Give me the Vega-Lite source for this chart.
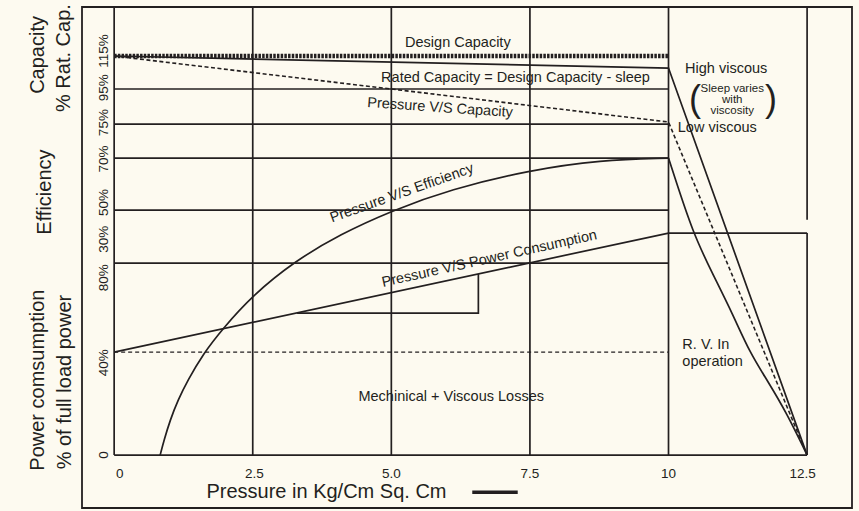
{
  "$schema": "https://vega.github.io/schema/vega-lite/v6.json",
  "width": 770,
  "height": 501,
  "autosize": {"type": "none"},
  "padding": {"left": 82, "top": 7, "right": 7, "bottom": 3},
  "background": "#fdfaf0",
  "view": {"stroke": "#231f20", "strokeWidth": 1.8, "fill": "#fdfaf0"},
  "config": {
    "font": "Liberation Sans",
    "text": {"font": "Liberation Sans", "color": "#231f20", "fontSize": 14},
    "line": {"color": "#231f20", "strokeWidth": 1.7},
    "rule": {"color": "#231f20", "strokeWidth": 1.7}
  },
  "datasets": {
    "vgrid": [
      {"x": 0, "y": 0, "y2": 100},
      {"x": 2.5, "y": 0, "y2": 100},
      {"x": 5, "y": 0, "y2": 100},
      {"x": 7.5, "y": 0, "y2": 100},
      {"x": 10, "y": 0, "y2": 100},
      {"x": 12.5, "y": 52.5, "y2": 100},
      {"x": 12.5, "y": 0, "y2": 49.55}
    ],
    "hgrid": [
      {"y": 0, "x": 0, "x2": 12.5},
      {"y": 81.7, "x": 0, "x2": 10},
      {"y": 73.88, "x": 0, "x2": 10},
      {"y": 66.29, "x": 0, "x2": 10},
      {"y": 54.69, "x": 0, "x2": 10},
      {"y": 42.86, "x": 0, "x2": 10}
    ],
    "hdash": [{"y": 22.99, "x": 0, "x2": 10}],
    "design": [{"x": 0, "y": 89.06}, {"x": 10, "y": 89.06}],
    "polylines": [
      {"id": "rated", "o": 1, "x": 0, "y": 89.06},
      {"id": "rated", "o": 2, "x": 10, "y": 86.38},
      {"id": "rated", "o": 3, "x": 12.5, "y": 0},
      {"id": "power", "o": 1, "x": 0, "y": 22.99},
      {"id": "power", "o": 2, "x": 10, "y": 49.55},
      {"id": "power", "o": 3, "x": 12.5, "y": 49.55},
      {"id": "slope", "o": 1, "x": 3.3, "y": 31.7},
      {"id": "slope", "o": 2, "x": 6.57, "y": 31.7},
      {"id": "slope", "o": 3, "x": 6.57, "y": 40.4}
    ],
    "curves": [
      {"id": "efficiency", "o": 1, "x": 0.83, "y": 0},
      {"id": "efficiency", "o": 2, "x": 0.9, "y": 3.35},
      {"id": "efficiency", "o": 3, "x": 1.01, "y": 7.81},
      {"id": "efficiency", "o": 4, "x": 1.15, "y": 12.28},
      {"id": "efficiency", "o": 5, "x": 1.33, "y": 16.74},
      {"id": "efficiency", "o": 6, "x": 1.6, "y": 22.5},
      {"id": "efficiency", "o": 7, "x": 1.95, "y": 28.1},
      {"id": "efficiency", "o": 8, "x": 2.5, "y": 35.7},
      {"id": "efficiency", "o": 9, "x": 3.26, "y": 43.3},
      {"id": "efficiency", "o": 10, "x": 4.08, "y": 49.3},
      {"id": "efficiency", "o": 11, "x": 5.0, "y": 54.5},
      {"id": "efficiency", "o": 12, "x": 6.06, "y": 59.3},
      {"id": "efficiency", "o": 13, "x": 7.5, "y": 63.6},
      {"id": "efficiency", "o": 14, "x": 8.77, "y": 65.85},
      {"id": "efficiency", "o": 15, "x": 10, "y": 66.29},
      {"id": "lowvisc", "o": 1, "x": 10, "y": 66.29},
      {"id": "lowvisc", "o": 2, "x": 10.07, "y": 63.6},
      {"id": "lowvisc", "o": 3, "x": 10.44, "y": 49.55},
      {"id": "lowvisc", "o": 4, "x": 10.79, "y": 40.6},
      {"id": "lowvisc", "o": 5, "x": 11.15, "y": 31.7},
      {"id": "lowvisc", "o": 6, "x": 11.47, "y": 22.77},
      {"id": "lowvisc", "o": 7, "x": 11.78, "y": 16.74},
      {"id": "lowvisc", "o": 8, "x": 12.14, "y": 9.2},
      {"id": "lowvisc", "o": 9, "x": 12.5, "y": 0}
    ],
    "capdash": [
      {"x": 0, "y": 89.06},
      {"x": 10, "y": 74.33},
      {"x": 12.5, "y": 0}
    ],
    "arrow": [{"x": 6.46, "x2": 7.28, "y": -8.26}],
    "xlabels": [
      {"t": "0", "x": 0.1, "y": -4.2},
      {"t": "2.5", "x": 2.53, "y": -4.2},
      {"t": "5.0", "x": 5.0, "y": -4.2},
      {"t": "7.5", "x": 7.5, "y": -4.2},
      {"t": "10", "x": 10.0, "y": -4.2},
      {"t": "12.5", "x": 12.42, "y": -4.2}
    ],
    "ylabels": [
      {"t": "115%", "x": -0.19, "y": 90.2},
      {"t": "95%", "x": -0.19, "y": 82.0},
      {"t": "75%", "x": -0.19, "y": 74.2},
      {"t": "70%", "x": -0.19, "y": 66.1},
      {"t": "50%", "x": -0.19, "y": 56.4},
      {"t": "30%", "x": -0.19, "y": 48.2},
      {"t": "80%", "x": -0.19, "y": 39.6},
      {"t": "40%", "x": -0.19, "y": 20.6},
      {"t": "0", "x": -0.19, "y": 0.0}
    ],
    "titles": [
      {"t": "Capacity", "x": -1.38, "y": 89.3},
      {"t": "% Rat. Cap.", "x": -0.91, "y": 88.6},
      {"t": "Efficiency", "x": -1.25, "y": 58.7},
      {"t": "Power comsumption", "x": -1.37, "y": 16.74},
      {"t": "% of full load power", "x": -0.89, "y": 16.3}
    ],
    "xtitle": [{"t": "Pressure in Kg/Cm Sq. Cm", "x": 3.83, "y": -8.26}],
    "notes": [
      {"t": "Design Capacity", "x": 6.2, "y": 91.96},
      {"t": "Rated Capacity = Design Capacity - sleep", "x": 7.24, "y": 84.15},
      {"t": "High viscous", "x": 11.04, "y": 86.16},
      {"t": "Low viscous", "x": 10.88, "y": 72.99},
      {"t": "Mechinical + Viscous Losses", "x": 6.08, "y": 12.95}
    ],
    "rv": [
      {"t": "R. V. In", "x": 10.25, "y": 24.55},
      {"t": "operation", "x": 10.25, "y": 20.76}
    ],
    "sleep": [
      {"t": "Sleep varies", "x": 11.15, "y": 81.7},
      {"t": "with", "x": 11.15, "y": 79.24},
      {"t": "viscosity", "x": 11.15, "y": 76.79}
    ],
    "parens": [
      {"t": "(", "x": 10.48, "y": 79.24},
      {"t": ")", "x": 11.85, "y": 79.24}
    ],
    "capnote": [{"t": "Pressure V/S Capacity", "x": 5.88, "y": 77.46}],
    "effnote": [{"t": "Pressure V/S Efficiency", "x": 5.19, "y": 58.4}],
    "pownote": [{"t": "Pressure V/S Power Consumption", "x": 6.77, "y": 43.75}]
  },
  "encoding": {
    "x": {"field": "x", "type": "quantitative", "scale": {"domain": [-0.58, 13.31], "nice": false, "zero": false}, "axis": null},
    "y": {"field": "y", "type": "quantitative", "scale": {"domain": [-11.8, 100], "nice": false, "zero": false}, "axis": null}
  },
  "layer": [
    {"data": {"name": "vgrid"}, "mark": {"type": "rule"}, "encoding": {"y2": {"field": "y2"}}},
    {"data": {"name": "hgrid"}, "mark": {"type": "rule"}, "encoding": {"x2": {"field": "x2"}}},
    {"data": {"name": "hdash"}, "mark": {"type": "rule", "strokeDash": [4, 3], "strokeWidth": 1.2}, "encoding": {"x2": {"field": "x2"}}},
    {"data": {"name": "polylines"}, "mark": {"type": "line"}, "encoding": {"detail": {"field": "id"}, "order": {"field": "o"}}},
    {"data": {"name": "curves"}, "mark": {"type": "line", "interpolate": "basis"}, "encoding": {"detail": {"field": "id"}, "order": {"field": "o"}}},
    {"data": {"name": "capdash"}, "mark": {"type": "line", "strokeDash": [4, 2.5], "strokeWidth": 1.6}, "encoding": {}},
    {"data": {"name": "design"}, "mark": {"type": "line", "strokeDash": [2.5, 1.2], "strokeWidth": 4.5}, "encoding": {}},
    {"data": {"name": "arrow"}, "mark": {"type": "rule", "strokeWidth": 3.5}, "encoding": {"x2": {"field": "x2"}}},
    {"data": {"name": "xlabels"}, "mark": {"type": "text", "fontSize": 13.5, "align": "center", "baseline": "middle"}, "encoding": {"text": {"field": "t"}}},
    {"data": {"name": "ylabels"}, "mark": {"type": "text", "fontSize": 13.5, "angle": 270, "align": "center", "baseline": "middle"}, "encoding": {"text": {"field": "t"}}},
    {"data": {"name": "titles"}, "mark": {"type": "text", "fontSize": 20, "angle": 270, "align": "center", "baseline": "middle"}, "encoding": {"text": {"field": "t"}}},
    {"data": {"name": "xtitle"}, "mark": {"type": "text", "fontSize": 20, "align": "center", "baseline": "middle"}, "encoding": {"text": {"field": "t"}}},
    {"data": {"name": "notes"}, "mark": {"type": "text", "fontSize": 14.5, "align": "center", "baseline": "middle"}, "encoding": {"text": {"field": "t"}}},
    {"data": {"name": "rv"}, "mark": {"type": "text", "fontSize": 14.5, "align": "left", "baseline": "middle"}, "encoding": {"text": {"field": "t"}}},
    {"data": {"name": "sleep"}, "mark": {"type": "text", "fontSize": 11.5, "align": "center", "baseline": "middle"}, "encoding": {"text": {"field": "t"}}},
    {"data": {"name": "parens"}, "mark": {"type": "text", "fontSize": 36, "align": "center", "baseline": "middle"}, "encoding": {"text": {"field": "t"}}},
    {"data": {"name": "capnote"}, "mark": {"type": "text", "fontSize": 14.5, "angle": 4, "align": "center", "baseline": "middle"}, "encoding": {"text": {"field": "t"}}},
    {"data": {"name": "effnote"}, "mark": {"type": "text", "fontSize": 14.5, "angle": -19.5, "align": "center", "baseline": "middle"}, "encoding": {"text": {"field": "t"}}},
    {"data": {"name": "pownote"}, "mark": {"type": "text", "fontSize": 14.5, "angle": -12.6, "align": "center", "baseline": "middle"}, "encoding": {"text": {"field": "t"}}}
  ]
}
